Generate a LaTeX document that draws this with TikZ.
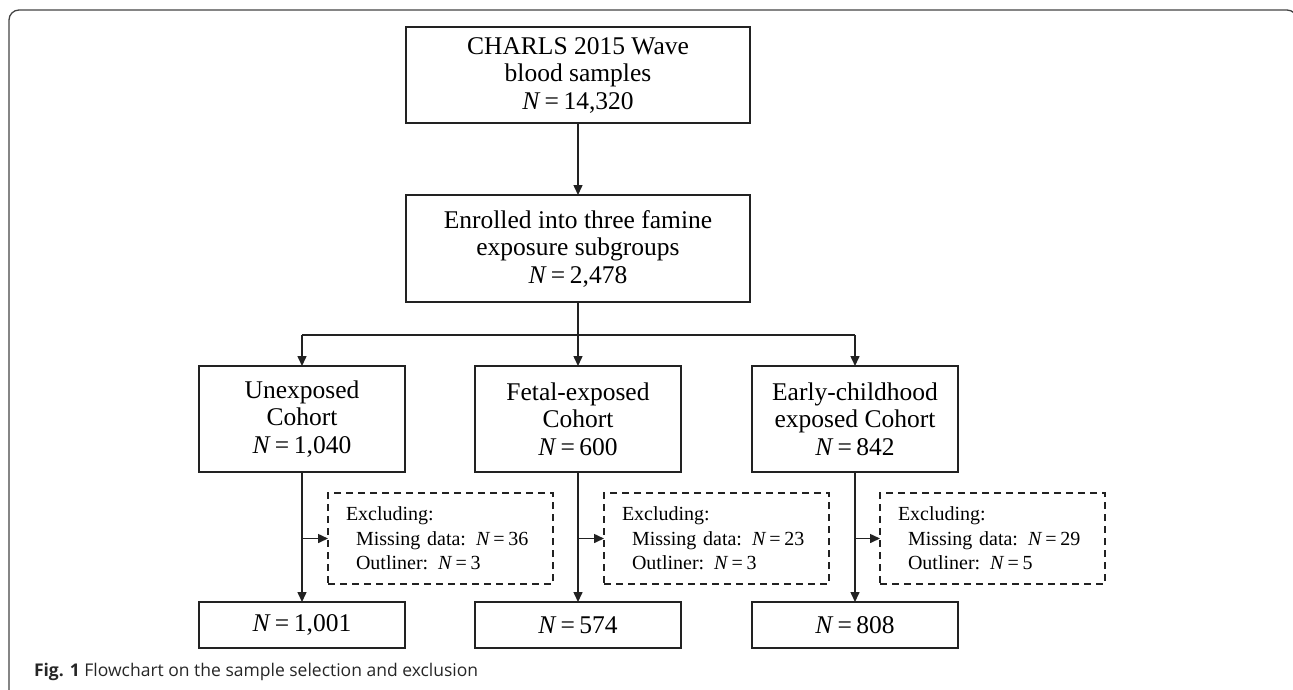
\documentclass[tikz,border=0pt]{standalone}
\usepackage{fontspec}
\setmainfont{Liberation Serif}
\newfontfamily\capfont{Open Sans}
\usetikzlibrary{arrows.meta}
\definecolor{ln}{HTML}{222222}
\newcommand\myN{\textit{N}\hspace{0.16em}=\hspace{0.18em}}
\begin{document}
\begin{tikzpicture}[x=1pt,y=-1pt,
  every node/.style={inner sep=0pt, outer sep=0pt},
  box/.style={draw=ln, line width=1.4pt, align=center, font=\fontsize{25.5}{27.5}\selectfont},
  cbox/.style={box, minimum width=206pt, minimum height=106pt},
  nbox/.style={box, minimum width=206pt, minimum height=46pt},
  exbox/.style={draw=ln, line width=1.3pt, dash pattern=on 7pt off 5pt, minimum width=225pt, minimum height=91pt,
     text width=189pt, inner xsep=18pt, align=left, font=\fontsize{20}{24.5}\selectfont},
  conn/.style={draw=ln, line width=1.5pt},
  arr/.style={conn, -{Triangle[length=10pt,width=9pt]}}]
\useasboundingbox (0,0) rectangle (1293,689);
% frame
\draw[ln!85!white, line width=1.3pt, rounded corners=10pt] (9,695) -- (9,10) -- (1297,10) -- (1297,695);
% nodes
\node[box, minimum width=344pt, minimum height=96pt] (top) at (578,75)
  {CHARLS 2015 Wave\\blood samples\\\myN 14,320};
\node[box, minimum width=344pt, minimum height=107pt] (mid) at (578,248.5)
  {Enrolled into three famine\\exposure subgroups\\\myN 2,478};
\node[cbox] (c1) at (302,419) {Unexposed\\Cohort\\\myN 1,040};
\node[cbox] (c2) at (578,419) {Fetal-exposed\\Cohort\\\myN 600};
\node[cbox] (c3) at (855,419) {Early-childhood\\exposed Cohort\\\myN 842};
\node[exbox] (x1) at (440.5,538.5) {Excluding:\\\hspace*{10pt}Missing data: \myN 36\\\hspace*{10pt}Outliner: \myN 3};
\node[exbox] (x2) at (716.5,538.5) {Excluding:\\\hspace*{10pt}Missing data: \myN 23\\\hspace*{10pt}Outliner: \myN 3};
\node[exbox] (x3) at (992.5,538.5) {Excluding:\\\hspace*{10pt}Missing data: \myN 29\\\hspace*{10pt}Outliner: \myN 5};
\node[nbox] (b1) at (302,625) {\myN 1,001};
\node[nbox] (b2) at (578,625) {\myN 574};
\node[nbox] (b3) at (855,625) {\myN 808};
% connectors
\coordinate (br) at (578,335);
\draw[arr] (top.south) -- (mid.north);
\draw[conn] (mid.south) -- (br);
\draw[conn] (c1.north |- br) -- (c3.north |- br);
\draw[arr] (c1.north |- br) -- (c1.north);
\draw[arr] (br) -- (c2.north);
\draw[arr] (c3.north |- br) -- (c3.north);
\draw[arr] (c1.south) -- (b1.north);
\draw[arr] (c2.south) -- (b2.north);
\draw[arr] (c3.south) -- (b3.north);
\draw[arr] (c1.south |- x1.west) -- (x1.west);
\draw[arr] (c2.south |- x2.west) -- (x2.west);
\draw[arr] (c3.south |- x3.west) -- (x3.west);
% caption
\node[anchor=base west, font=\capfont\fontsize{17.5}{20}\selectfont, text=black!85] (cap) at (34,676)
  {\textbf{Fig. 1} Flowchart on the sample selection and exclusion};
\end{tikzpicture}
\end{document}
